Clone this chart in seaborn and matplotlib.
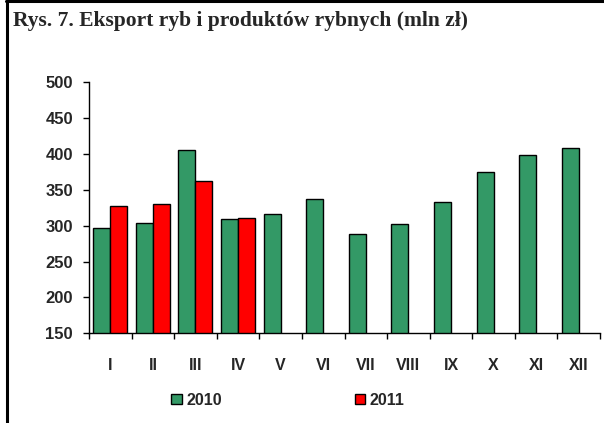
import numpy as np
import pandas as pd
import matplotlib
matplotlib.use("Agg")
import matplotlib.pyplot as plt
import seaborn as sns
from matplotlib.lines import Line2D

months = ["I", "II", "III", "IV", "V", "VI", "VII", "VIII", "IX", "X", "XI", "XII"]
export_2010 = [297, 304, 406, 309, 316, 337, 288, 302, 333, 375, 399, 408]
export_2011 = [328, 330, 363, 311, np.nan, np.nan, np.nan, np.nan, np.nan, np.nan, np.nan, np.nan]
years = ["2010", "2011"]
colors = ["#339966", "#FF0000"]
title = "Rys. 7. Eksport ryb i produktów rybnych (mln zł)"

df = pd.DataFrame({
    "month": months * 2,
    "value": export_2010 + export_2011,
    "year": [years[0]] * 12 + [years[1]] * 12,
})

sns.set_style("white")
plt.rcParams["font.family"] = ["Liberation Sans", "DejaVu Sans"]
plt.rcParams["font.weight"] = "bold"

fig = plt.figure(figsize=(6.04, 4.23), dpi=100)
ax = fig.add_axes([89 / 604, 1 - 333.3 / 423, 511 / 604, 251 / 423])

sns.barplot(data=df, x="month", y="value", hue="year", order=months,
            hue_order=years, palette=colors, saturation=1, width=0.8,
            edgecolor="black", linewidth=1.0, ax=ax, legend=False)

ax.set_ylim(150, 500)
ax.set_yticks(np.arange(150, 501, 50))
ax.set_xlim(-0.5, 11.5)
ax.set_xlabel("")
ax.set_ylabel("")
for s in ["top", "right"]:
    ax.spines[s].set_visible(False)
for s in ["left", "bottom"]:
    ax.spines[s].set_color("black")
    ax.spines[s].set_linewidth(1.0)

# Category boundary ticks on the x axis, labels centred between them
ax.set_xticks(np.arange(-0.5, 12, 1.0))
ax.set_xticklabels([])
ax.set_xticks(np.arange(12), minor=True)
ax.set_xticklabels(months, minor=True, fontsize=11.5, fontweight="bold")
ax.tick_params(axis="x", which="major", direction="out", length=4.5,
               width=1.0, color="black", bottom=True)
ax.tick_params(axis="x", which="minor", length=0, pad=17.5)
ax.tick_params(axis="y", direction="out", length=4.5, width=1.0,
               color="black", left=True, pad=7, labelsize=12)
for t in ax.get_yticklabels():
    t.set_fontweight("bold")

fig.text(12.5 / 604, 1 - 21 / 423, title, family=["Liberation Serif", "DejaVu Serif"],
         fontsize=15.5, fontweight="bold", va="center", ha="left")

# Frame lines along the left and top edges of the figure
fig.add_artist(Line2D([6.5 / 604, 6.5 / 604], [0, 1 - 1.5 / 423],
                      transform=fig.transFigure, color="black", lw=2.2))
fig.add_artist(Line2D([5.5 / 604, 1], [1 - 1.5 / 423, 1 - 1.5 / 423],
                      transform=fig.transFigure, color="black", lw=2.2))

handles = [plt.Rectangle((0, 0), 1, 1, facecolor=c, edgecolor="black", lw=1.0)
           for c in colors]
fig.legend(handles, years, loc="center", bbox_to_anchor=(288 / 604, 1 - 400 / 423),
           ncol=2, frameon=False, prop={"weight": "bold", "size": 11.5},
           handlelength=0.65, handleheight=0.65, handletextpad=0.3,
           columnspacing=8.3)

fig.savefig("out.png", dpi=100, facecolor="white")
